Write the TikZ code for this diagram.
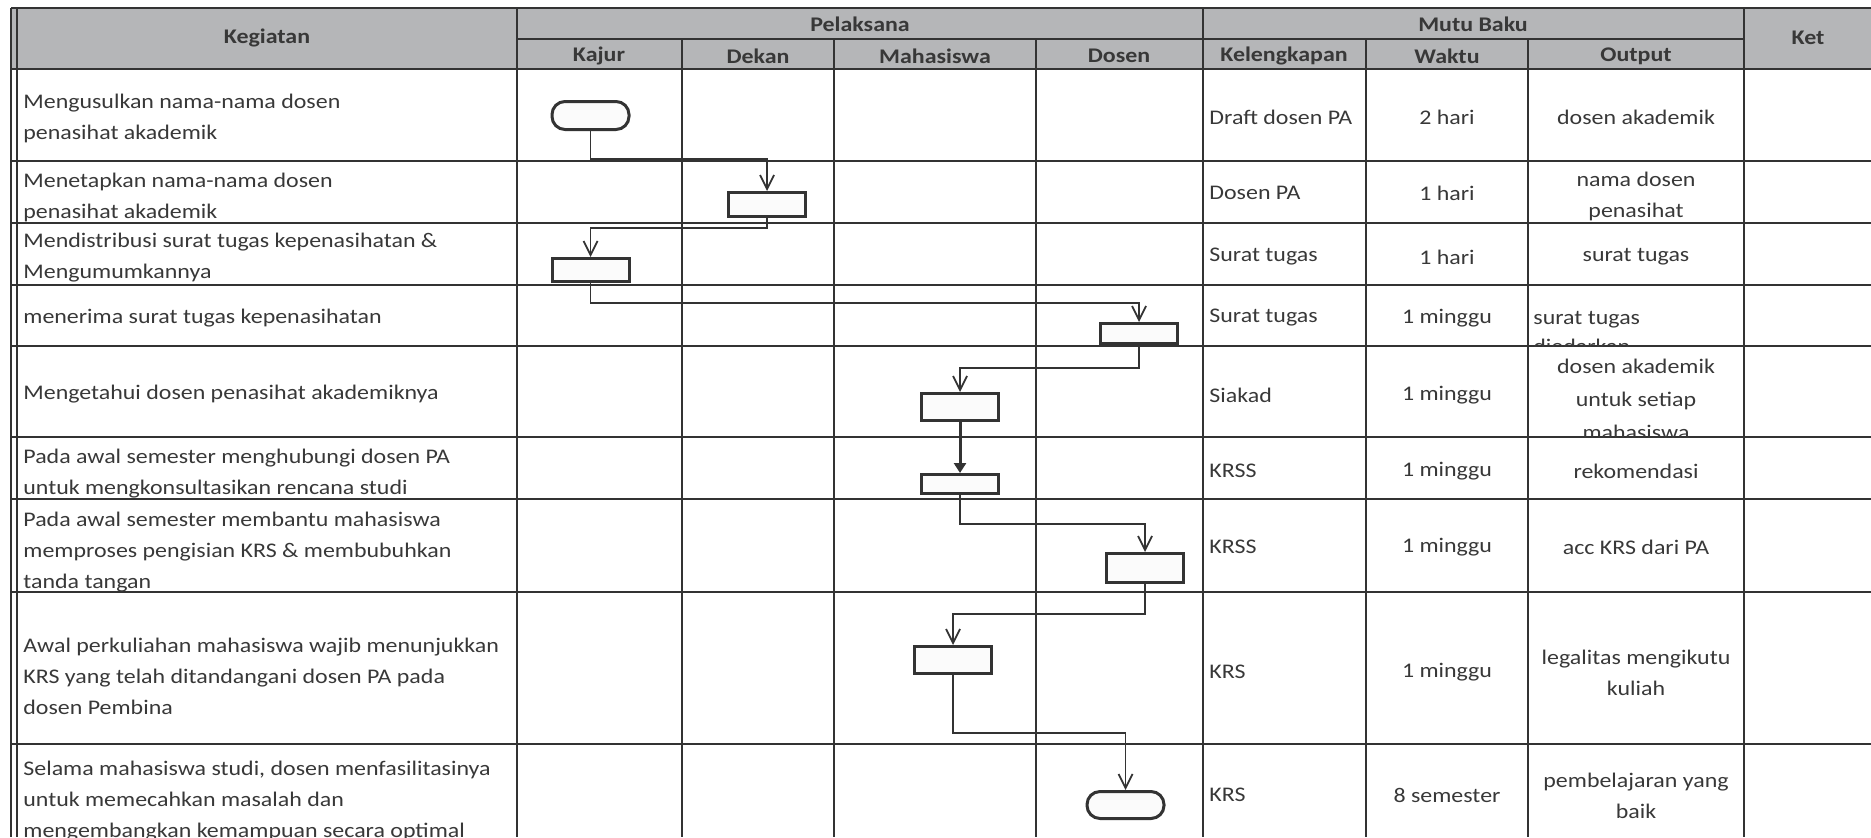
\documentclass[tikz,border=0pt]{standalone}
\usepackage{fontspec}
\setmainfont{Carlito}[FakeStretch=1.15]
\usepackage{tikz}
\usetikzlibrary{arrows.meta, positioning, calc}
\definecolor{cHead}{HTML}{B5B6B8}
\definecolor{cLine}{HTML}{333333}
\definecolor{cText}{HTML}{383838}
\definecolor{cBox}{HTML}{FBFBFB}

\begin{document}
\begin{tikzpicture}[x=0.5pt, y=-0.5pt,
  gridline/.style={cLine, line width=1.3pt},
  txt/.style={text=cText, font=\fontsize{10.4}{15.5}\selectfont, inner sep=0pt, align=left},
  ctr/.style={txt, align=center},
  hd/.style={text=cText, font=\fontsize{10.4}{15.5}\selectfont\bfseries, inner sep=0pt},
  proc/.style={draw=cLine, line width=1.5pt, fill=cBox, minimum width=38.5pt, inner sep=0pt},
  term/.style={proc, rounded corners=6.5pt},
  flow/.style={cLine, line width=0.9pt, -{Straight Barb[length=7pt, width=7pt]}},
  flowb/.style={cLine, line width=1.5pt, -{Triangle[length=5pt, width=6pt]}},
]
\useasboundingbox (0,0) rectangle (1871,837);
\fill[cHead] (11,8) rectangle (1871,69);

% grid
\draw[gridline] (11,8) -- (1871,8);
\draw[gridline] (11,8) -- (11,837);
\draw[gridline] (17,8) -- (17,837);
\foreach \y in {69,161,223,285,346,437,499,592,744}
  \draw[gridline] (11,\y) -- (1871,\y);
\draw[gridline] (517,39) -- (1744,39);
\foreach \x in {517,1203,1744}
  \draw[gridline] (\x,8) -- (\x,837);
\foreach \x in {682,834,1036,1366,1528}
  \draw[gridline] (\x,39) -- (\x,837);

% header
\node[hd] (hKeg) at (267,38) {Kegiatan};
\node[hd] (hPel) at (860,24) {Pelaksana};
\node[hd] (hMutu) at (1473,24) {Mutu Baku};
\node[hd] (hKet) at (1808,38) {Ket};
\node[hd] (hKajur) at (599,56) {Kajur};
\node[hd] (hDekan) at (758,56) {Dekan};
\node[hd] (hMhs) at (935,56) {Mahasiswa};
\node[hd] (hDosen) at (1119,56) {Dosen};
\node[hd] (hKel) at (1284,56) {Kelengkapan};
\node[hd] (hWaktu) at (1447,56) {Waktu};
\node[hd] (hOut) at (1636,56) {Output};

% kegiatan
\node[txt, anchor=west] (k1) at (23,118) {Mengusulkan nama-nama dosen\\penasihat akademik};
\node[txt, anchor=west] (k2) at (23,197) {Menetapkan nama-nama dosen\\penasihat akademik};
\node[txt, anchor=west] (k3) at (23,258) {Mendistribusi surat tugas kepenasihatan \&\\Mengumumkannya};
\node[txt, anchor=west] (k4) at (23,318) {menerima surat tugas kepenasihatan};
\node[txt, anchor=west] (k5) at (23,394) {Mengetahui dosen penasihat akademiknya};
\node[txt, anchor=west] (k6) at (23,474) {Pada awal semester menghubungi dosen PA\\untuk mengkonsultasikan rencana studi};
\begin{scope}
  \clip (17,499) rectangle (517,592);
  \node[txt, anchor=west] (k7) at (23,552) {Pada awal semester membantu mahasiswa\\memproses pengisian KRS \& membubuhkan\\tanda tangan};
\end{scope}
\node[txt, anchor=west] (k8) at (23,676) {Awal perkuliahan mahasiswa wajib menunjukkan\\KRS yang telah ditandangani dosen PA pada\\dosen Pembina};
\node[txt, anchor=west] (k9) at (23,801) {Selama mahasiswa studi, dosen menfasilitasinya\\untuk memecahkan masalah dan\\mengembangkan kemampuan secara optimal};

% kelengkapan
\node[txt, anchor=west] (kl1) at (1209,117) {Draft dosen PA};
\node[txt, anchor=west] (kl2) at (1209,193) {Dosen PA};
\node[txt, anchor=west] (kl3) at (1209,257) {Surat tugas};
\node[txt, anchor=west] (kl4) at (1209,318) {Surat tugas};
\node[txt, anchor=west] (kl5) at (1209,395) {Siakad};
\node[txt, anchor=west] (kl6) at (1209,471) {KRSS};
\node[txt, anchor=west] (kl7) at (1209,547) {KRSS};
\node[txt, anchor=west] (kl8) at (1209,672) {KRS};
\node[txt, anchor=west] (kl9) at (1209,795) {KRS};

% waktu
\node[ctr] (w1) at (1447,117) {2 hari};
\node[ctr] (w2) at (1447,193) {1 hari};
\node[ctr] (w3) at (1447,257) {1 hari};
\node[ctr] (w4) at (1447,318) {1 minggu};
\node[ctr] (w5) at (1447,395) {1 minggu};
\node[ctr] (w6) at (1447,471) {1 minggu};
\node[ctr] (w7) at (1447,547) {1 minggu};
\node[ctr] (w8) at (1447,672) {1 minggu};
\node[ctr] (w9) at (1447,795) {8 semester};

% output
\node[ctr] (o1) at (1636,117) {dosen akademik};
\node[ctr] (o2) at (1636,196) {nama dosen\\penasihat};
\node[ctr] (o3) at (1636,257) {surat tugas};
\begin{scope}
  \clip (1528,285) rectangle (1744,346);
  \node[txt, anchor=west, font=\fontsize{10.4}{14.5}\selectfont] (o4) at (1533,332) {surat tugas\\diedarkan};
\end{scope}
\begin{scope}
  \clip (1528,346) rectangle (1744,437);
  \node[ctr, font=\fontsize{10.4}{16.5}\selectfont] (o5) at (1636,399) {dosen akademik\\untuk setiap\\mahasiswa};
\end{scope}
\node[ctr] (o6) at (1636,471) {rekomendasi};
\node[ctr] (o7) at (1636,547) {acc KRS dari PA};
\node[ctr] (o8) at (1636,673) {legalitas mengikutu\\kuliah};
\node[ctr] (o9) at (1636,796) {pembelajaran yang\\baik};

% flow
\node[term, minimum height=14pt] (start) at (590.5,115.5) {};
\node[proc, minimum height=12pt] (dk) at (767,204.5) {};
\node[proc, minimum height=11.5pt] (kj) at (590.5,270) {};
\node[proc, minimum height=10pt] (ds1) at (1139,333.5) {};
\node[proc, minimum height=13.5pt] (mh1) at (960,407) {};
\node[proc, minimum height=9.5pt] (mh2) at (960,484) {};
\node[proc, minimum height=14.5pt] (ds2) at (1145,568) {};
\node[proc, minimum height=13.5pt] (mh3) at (953,660) {};
\node[term, minimum height=13.5pt] (finish) at (1125.5,805) {};

\draw[flow] (start.south) -- (start.south |- 0,159) -| (dk.north);
\draw[flow] (dk.south) -- (dk.south |- 0,228) -| (kj.north);
\draw[flow] (kj.south) -- (kj.south |- 0,303) -| (ds1.north);
\draw[flow] (ds1.south) -- (ds1.south |- 0,368) -| (mh1.north);
\draw[flowb] (mh1.south) -- (mh2.north);
\draw[flow] (mh2.south) -- (mh2.south |- 0,524) -| (ds2.north);
\draw[flow] (ds2.south) -- (ds2.south |- 0,614) -| (mh3.north);
\draw[flow] (mh3.south) -- (mh3.south |- 0,733) -| (finish.north);
\end{tikzpicture}
\end{document}
